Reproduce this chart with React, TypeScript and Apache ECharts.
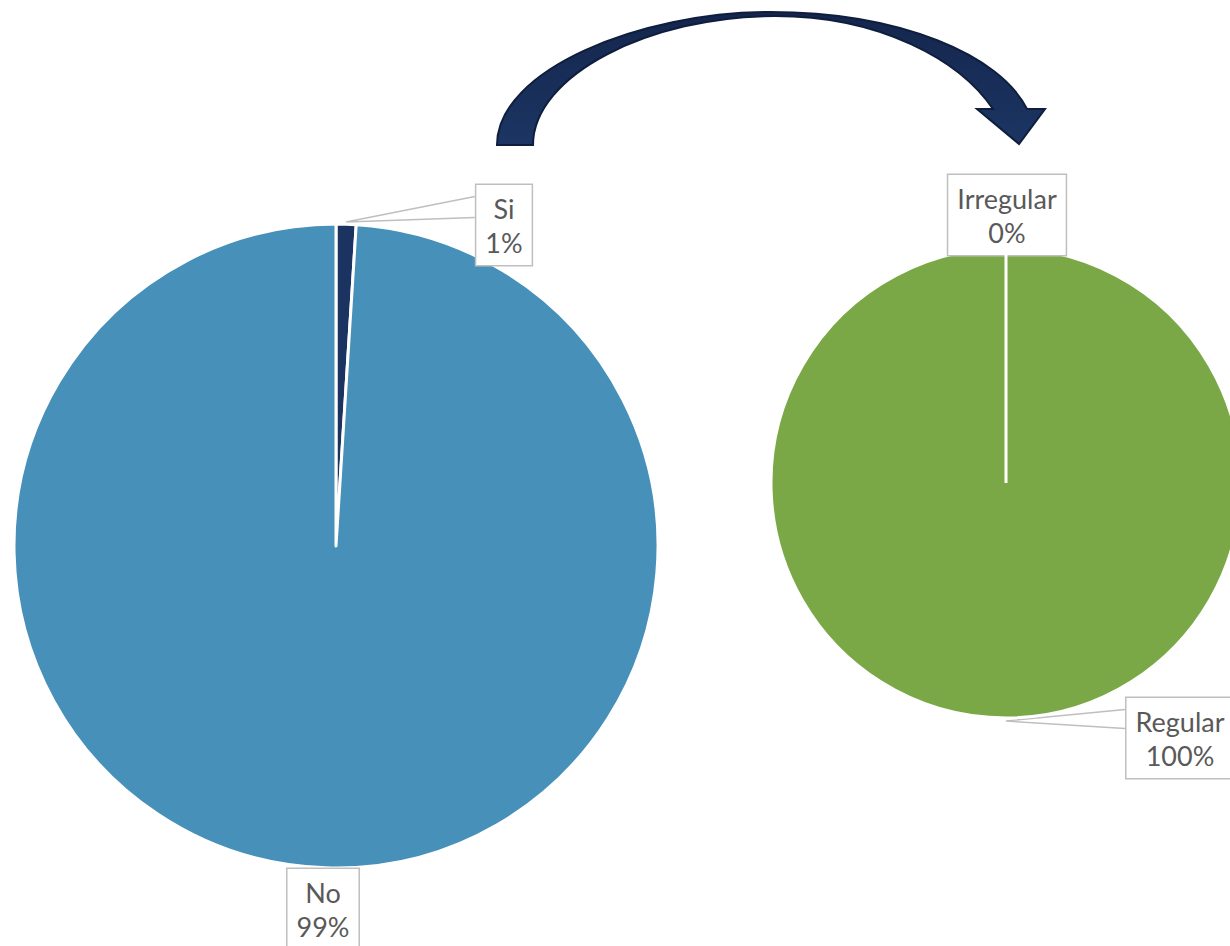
import React, { useEffect, useRef } from "react";
import * as echarts from "echarts";

const leftCategories = ["Si", "No"];
const leftValues = [1, 99];
const rightCategories = ["Irregular", "Regular"];
const rightValues = [0, 100];

const leftColors = ["#1b3360", "#4690b9"];
const rightColors = ["#ffffff", "#7ba846"];

const L = { cx: 336, cy: 546, r: 322 };
const R = { cx: 1006, cy: 483, r: 235 };

const ARROW_D =
  "M 497 145 C 497 70 640 12 770 12 C 900 12 1000 55 1027 109 L 1045 109 L 1019 144 L 977 109 L 993 109 C 960 60 880 16 775 16 C 650 16 533 75 533 145 Z";

let registered = false;

const labelStyle = {
  show: true,
  formatter: "{b}\n{d}%",
  color: "#595959",
  fontSize: 27,
  lineHeight: 34,
  fontFamily: "Lato, 'DejaVu Sans', sans-serif",
  backgroundColor: "#ffffff",
  borderColor: "#bfbfbf",
  borderWidth: 1.5,
  padding: [6, 9, 6, 9],
  align: "center",
};

export default function App() {
  const ref = useRef<HTMLDivElement>(null);
  useEffect(() => {
    document.body.style.margin = "0";
    if (!registered) {
      echarts.graphic.registerShape("bentArrow", echarts.graphic.extendPath(ARROW_D, {}) as any);
      registered = true;
    }
    const chart = echarts.init(ref.current!, null, { renderer: "svg" });

    const leftPos = [
      [L.cx + 168, L.cy - 321],
      [L.cx - 13, L.cy + 363],
    ];
    const rightPos = [
      [R.cx + 1, R.cy - 268],
      [R.cx + 174, R.cy + 255],
    ];

    // angle of the boundary after the zero "Irregular" slice (starts at 12 o'clock)
    const zeroAngle = Math.PI / 2;

    chart.setOption({
      animation: false,
      backgroundColor: "#ffffff",
      graphic: [
        {
          type: "bentArrow",
          x: 0,
          y: 0,
          z: 10,
          style: {
            fill: new echarts.graphic.LinearGradient(0, 0, 0, 1, [
              { offset: 0, color: "#14264d" },
              { offset: 1, color: "#1c3563" },
            ]),
            stroke: "#0f1e3d",
            lineWidth: 2,
          },
        },
        {
          type: "line",
          z: 5,
          shape: {
            x1: R.cx,
            y1: R.cy,
            x2: R.cx + R.r * Math.cos(zeroAngle),
            y2: R.cy - R.r * Math.sin(zeroAngle),
          },
          style: { stroke: "#ffffff", lineWidth: 3 },
        },
      ],
      series: [
        {
          type: "pie",
          center: [L.cx, L.cy],
          radius: L.r,
          startAngle: 90,
          clockwise: true,
          itemStyle: { borderColor: "#ffffff", borderWidth: 3 },
          label: labelStyle,
          labelLine: { show: true, lineStyle: { color: "#bfbfbf", width: 1.5 } },
          data: leftCategories.map((name, i) => ({
            name,
            value: leftValues[i],
            itemStyle: { color: leftColors[i] },
            labelLine: { show: i === 0 },
          })),
          labelLayout: (p: any) => {
            const pos = leftPos[p.dataIndex];
            const w = p.labelRect.width;
            const h = p.labelRect.height;
            const res: any = { x: pos[0], y: pos[1], align: "center", verticalAlign: "middle" };
            if (p.dataIndex === 0) {
              const left = pos[0] - w / 2;
              const top = pos[1] - h / 2;
              res.labelLinePoints = [
                [left, top + 13],
                [L.cx + 10, L.cy - L.r - 2],
                [left, top + 34],
              ];
            }
            return res;
          },
        },
        {
          type: "pie",
          center: [R.cx, R.cy],
          radius: R.r,
          startAngle: 90,
          clockwise: true,
          itemStyle: { borderColor: "#ffffff", borderWidth: 3 },
          label: labelStyle,
          labelLine: { show: true, lineStyle: { color: "#bfbfbf", width: 1.5 } },
          data: rightCategories.map((name, i) => ({
            name,
            value: rightValues[i],
            itemStyle: { color: rightColors[i] },
            labelLine: { show: i === 1 },
          })),
          labelLayout: (p: any) => {
            const pos = rightPos[p.dataIndex];
            const w = p.labelRect.width;
            const h = p.labelRect.height;
            const res: any = { x: pos[0], y: pos[1], align: "center", verticalAlign: "middle" };
            if (p.dataIndex === 1) {
              const left = pos[0] - w / 2;
              const top = pos[1] - h / 2;
              res.labelLinePoints = [
                [left, top + 13],
                [R.cx, R.cy + R.r + 3],
                [left, top + 32],
              ];
            }
            return res;
          },
        },
      ],
    });
    return () => chart.dispose();
  }, []);
  return <div ref={ref} style={{ width: 1230, height: 946 }} />;
}
